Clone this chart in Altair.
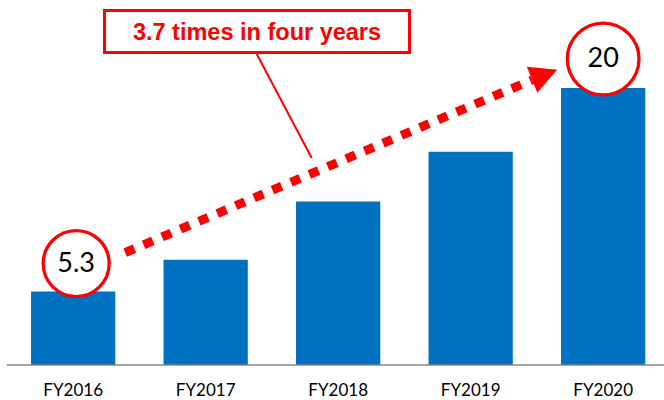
import altair as alt
import pandas as pd

# ---- data ----
categories = ["FY2016", "FY2017", "FY2018", "FY2019", "FY2020"]
values = [5.3, 7.6, 11.8, 15.4, 20.0]
callout_text = "3.7 times in four years"
start_label = "5.3"
end_label = "20"

bars_df = pd.DataFrame({"cat": categories, "value": values})
start_df = pd.DataFrame({"cat": [categories[0]], "value": [values[0]], "label": [start_label]})
end_df = pd.DataFrame({"cat": [categories[-1]], "value": [values[-1]], "label": [end_label]})
arrow_df = pd.DataFrame({"cat": [categories[0]], "cat2": [categories[-1]],
                         "value": [values[0]], "value2": [values[-1]]})
callout_df = pd.DataFrame({"label": [callout_text]})
base_df = pd.DataFrame({"value": [0]})

RED = "#FF0000"
BLUE = "#0070C0"

xscale = alt.Scale(domain=categories, paddingInner=0.364, paddingOuter=0.1877, align=0.624)
yscale = alt.Scale(domain=[0, 26.35], nice=False, zero=True)

x_axis = alt.Axis(title=None, ticks=False, labelAngle=0, domain=False,
                  labelFont="Lato", labelFontSize=17,
                  labelColor="#000000", labelPadding=17, grid=False)


def X():
    return alt.X("cat:N", scale=xscale, axis=x_axis, sort=categories)


def Y():
    return alt.Y("value:Q", scale=yscale, axis=None)


bars = alt.Chart(bars_df).mark_bar(color=BLUE).encode(x=X(), y=Y())

baseline = alt.Chart(base_df).mark_rule(color="#868686", strokeWidth=1.5).encode(
    x=alt.value(7), x2=alt.value(664), y=Y(),
)

# dotted arrow line from first to last bar
arrow_line = alt.Chart(arrow_df).mark_rule(
    color=RED, strokeWidth=9, strokeDash=[10, 10], strokeCap="butt",
    xOffset=52, yOffset=-39, x2Offset=-71, y2Offset=-8,
).encode(x=X(), x2="cat2", y=Y(), y2="value2")

arrow_head = alt.Chart(end_df).mark_point(
    shape="M 1 0 L -0.93 -1 L -0.93 1 Z", filled=True, color=RED, opacity=1,
    size=784, angle=338, xOffset=-59, yOffset=-13,
).encode(x=X(), y=Y())

start_circle = alt.Chart(start_df).mark_point(
    shape="circle", filled=False, color=RED, strokeWidth=3.3, opacity=1,
    size=4356, xOffset=3, yOffset=-28, fill="white", fillOpacity=1,
).encode(x=X(), y=Y())
start_text = alt.Chart(start_df).mark_text(
    font="Lato", fontSize=27, color="#000000", dx=3, dy=-28, baseline="middle",
).encode(x=X(), y=Y(), text="label:N")

end_circle = alt.Chart(end_df).mark_point(
    shape="circle", filled=False, color=RED, strokeWidth=3.3, opacity=1,
    size=5140, yOffset=-29, fill="white", fillOpacity=1,
).encode(x=X(), y=Y())
end_text = alt.Chart(end_df).mark_text(
    font="Lato", fontSize=27, color="#000000", dy=-29, baseline="middle",
).encode(x=X(), y=Y(), text="label:N")

# callout box, leader line and text
leader = alt.Chart(callout_df).mark_rule(color=RED, strokeWidth=2).encode(
    x=alt.value(256.7), x2=alt.value(311.7), y=alt.value(54), y2=alt.value(158),
)
box = alt.Chart(callout_df).mark_rect(fill="white", stroke=RED, strokeWidth=3).encode(
    x=alt.value(104.5), x2=alt.value(409.5), y=alt.value(10.5), y2=alt.value(52.5),
)
callout = alt.Chart(callout_df).mark_text(
    font="Liberation Sans", fontWeight="bold", fontSize=23.5, color=RED,
    align="center", baseline="alphabetic",
).encode(x=alt.value(257), y=alt.value(40), text="label:N")

chart = alt.layer(
    bars, baseline, arrow_line, arrow_head, leader, box, callout,
    start_circle, start_text, end_circle, end_text,
).properties(
    width=664, height=365,
    background="white",
    autosize=alt.AutoSizeParams(type="none"),
    padding={"left": 0, "top": 0, "right": 0, "bottom": 35},
).configure_view(stroke=None, strokeWidth=0)

chart.save("out.html", embed_options={"renderer": "svg", "actions": False})
